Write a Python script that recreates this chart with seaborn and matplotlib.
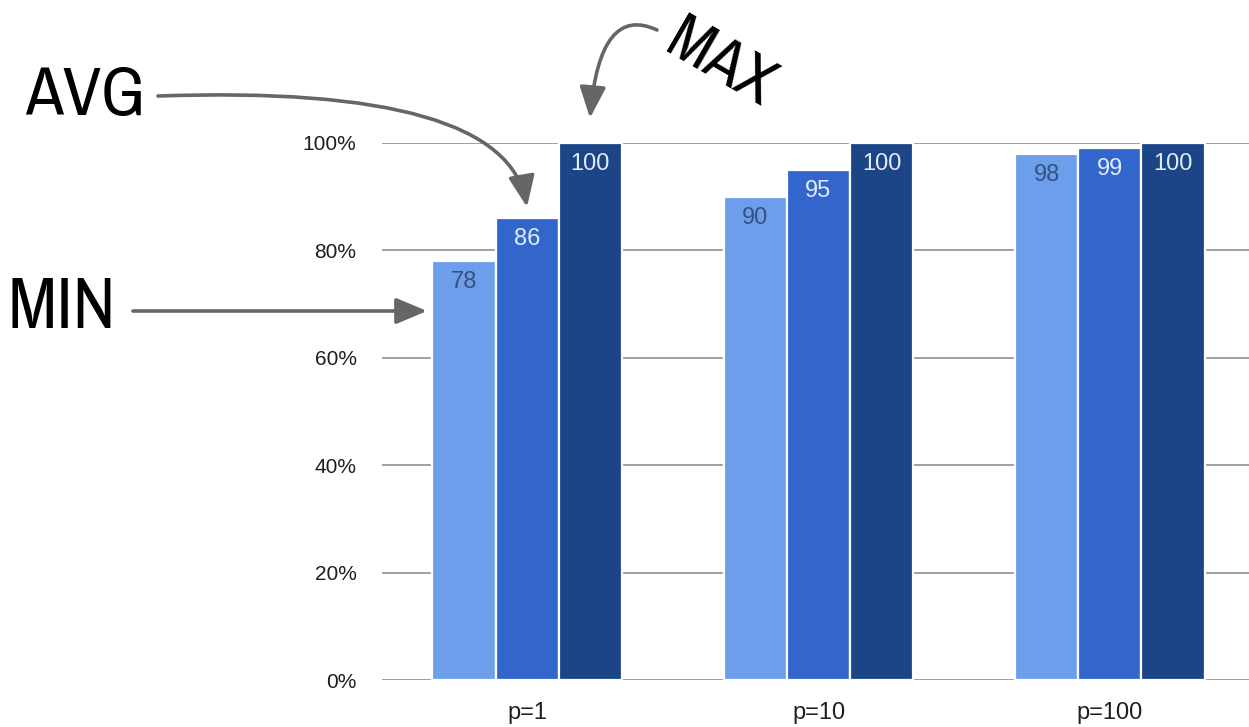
import numpy as np
import pandas as pd
import seaborn as sns
import matplotlib
matplotlib.use("Agg")
import matplotlib.pyplot as plt
from matplotlib import font_manager as fm

# Data
categories = ["p=1", "p=10", "p=100"]
stats = ["Min", "Avg", "Max"]
min_vals = [78, 90, 98]
avg_vals = [86, 95, 99]
max_vals = [100, 100, 100]
y_ticks = [0, 20, 40, 60, 80, 100]
y_tick_labels = ["0%", "20%", "40%", "60%", "80%", "100%"]

bar_colors = ["#6d9eeb", "#3366cc", "#1c4587"]
label_colors = ["#34527f", "#e3ebf8", "#e3ebf8"]

df = pd.DataFrame({
    "p": categories * 3,
    "stat": [s for s in stats for _ in categories],
    "value": min_vals + avg_vals + max_vals,
})

sns.set_theme(style="white")
plt.rcParams["font.family"] = ["Liberation Sans", "DejaVu Sans"]

W, H = 1249, 727
fig = plt.figure(figsize=(W / 100, H / 100), dpi=100)
ax = fig.add_axes([381.5 / W, 47 / H, 874 / W, 537 / H])

sns.barplot(data=df, x="p", y="value", hue="stat", hue_order=stats,
            palette=bar_colors, saturation=1, width=0.65,
            edgecolor="white", linewidth=1.6, legend=False, ax=ax, zorder=3)

ax.set_xlim(-0.5, 2.5)
ax.set_ylim(0, 100)
ax.set_yticks(y_ticks)
ax.set_yticklabels(y_tick_labels)
ax.set_xlabel("")
ax.set_ylabel("")
for s in ax.spines.values():
    s.set_visible(False)
ax.grid(axis="y", color="#999999", linewidth=1.3, zorder=0)
ax.set_axisbelow(True)
ax.tick_params(axis="y", length=0, pad=18, labelsize=15, labelcolor="#1e1e1e")
ax.tick_params(axis="x", length=0, pad=16, labelsize=17, labelcolor="#1e1e1e")
for lab in ax.get_yticklabels():
    lab.set_fontweight("medium")

# Value labels inside the top of each bar
for container, col in zip(ax.containers, label_colors):
    for patch in container:
        v = patch.get_height()
        ax.annotate(f"{v:.0f}", (patch.get_x() + patch.get_width() / 2, v),
                    xytext=(0, -19.5), textcoords="offset points",
                    ha="center", va="baseline", fontsize=17, color=col,
                    zorder=5)

# Narrow typeface for the hand-written callouts
def narrow_font():
    narrow = [f for f in fm.fontManager.ttflist
              if any(k in (f.name + " " + str(f.stretch) + " " + f.fname).lower()
                     for k in ("narrow", "condensed"))
              and f.style == "normal"]
    narrow.sort(key=lambda f: (
        0 if "narrow" in f.fname.lower() else 1,
        0 if f.weight in (400, "normal", "regular") else 1))
    if narrow:
        return dict(fontproperties=fm.FontProperties(fname=narrow[0].fname))
    return dict(family="DejaVu Sans", stretch="condensed")

hand = narrow_font()

def px(x, y):
    return (x, H - y)

arrow_kw = dict(arrowstyle="-|>,head_length=0.95,head_width=0.4",
                color="#666666", lw=2.6, mutation_scale=20,
                shrinkA=0, shrinkB=0)

def hand_text(x, y, s, size, **kw):
    t = fig.text(x / W, 1 - y / H, s, ha="center", va="center",
                 color="black", **hand, **kw)
    t.set_fontsize(size)
    return t

hand_text(85, 96, "AVG", 50)
hand_text(62, 308, "MIN", 52)
hand_text(720, 64, "MAX", 46, rotation=-30)

ax.annotate("", xy=px(527, 207), xycoords="figure pixels",
            xytext=px(158, 96), textcoords="figure pixels",
            arrowprops=dict(connectionstyle="angle3,angleA=2,angleB=-80",
                            **arrow_kw))
ax.annotate("", xy=px(590, 118), xycoords="figure pixels",
            xytext=px(657, 30), textcoords="figure pixels",
            arrowprops=dict(connectionstyle="angle3,angleA=-25,angleB=-95",
                            **arrow_kw))
ax.annotate("", xy=px(427, 311), xycoords="figure pixels",
            xytext=px(133, 311), textcoords="figure pixels",
            arrowprops=dict(connectionstyle="arc3,rad=0", **arrow_kw))

fig.savefig("out.png", dpi=100, facecolor="white")
